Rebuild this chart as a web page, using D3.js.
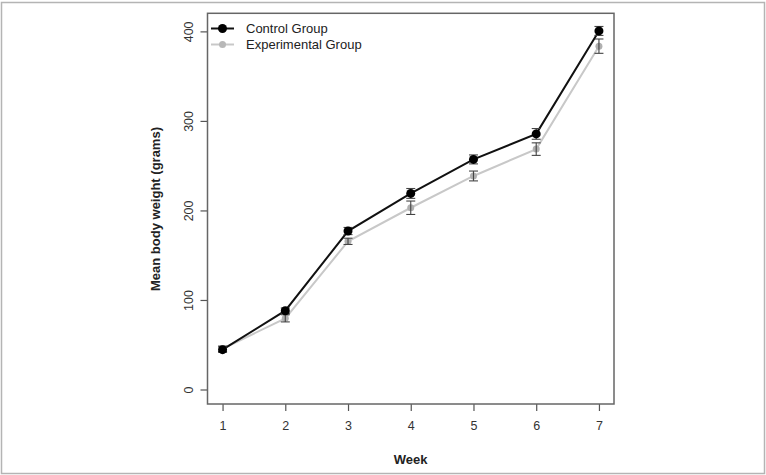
<!DOCTYPE html>
<html>
<head>
<meta charset="utf-8">
<script src="https://cdn.jsdelivr.net/npm/d3@7"></script>
<style>
  body { margin: 0; background: #fff; }
  svg { display: block; font-family: "Liberation Sans", Arial, sans-serif; }
</style>
</head>
<body>
<div class="container"></div>
<script>
var weeks = [1, 2, 3, 4, 5, 6, 7];
var controlMean = [44.5, 88, 177, 219, 257, 285.5, 400.5];
var controlErr = [3, 3, 4, 5.5, 5, 6, 5];
var expMean = [45.5, 79.5, 165.5, 203, 238.5, 268.5, 383.5];
var expErr = [3, 4, 3.5, 7.5, 5.5, 7, 8];
var yTicks = [0, 100, 200, 300, 400];
var legendLabels = ["Control Group", "Experimental Group"];

const WIDTH = 766;
const HEIGHT = 475;

var svg = d3.select('.container').append('svg')
  .attr('width', WIDTH)
  .attr('height', HEIGHT);

// outer frame of the figure
svg.append('rect')
  .attr('x', 1.5).attr('y', 2.5)
  .attr('width', WIDTH - 3).attr('height', HEIGHT - 4)
  .attr('fill', 'none')
  .attr('stroke', '#b4b4b4')
  .attr('stroke-width', 1.5);

// R style: 4% padding around data range
var xScale = d3.scaleLinear()
  .domain([0.76, 7.24])
  .range([207.5, 614]);

var yScale = d3.scaleLinear()
  .domain([-16.2, 420.2])
  .range([404, 13.3]);

var translate = function(x, y) {
  return "translate(" + x + "," + y + ")";
};

var xAxis = d3.axisBottom(xScale).tickValues(weeks).tickFormat(d3.format('d'))
  .tickSize(7).tickSizeOuter(0).tickPadding(10);
var yAxis = d3.axisLeft(yScale).tickValues(yTicks).tickFormat(d3.format('d'))
  .tickSize(7).tickSizeOuter(0).tickPadding(5);

var gx = svg.append('g')
  .attr('transform', translate(0, 404))
  .call(xAxis);
gx.select('.domain').remove();
gx.selectAll('line').attr('stroke', '#555').attr('stroke-width', 1.2);
gx.selectAll('text').attr('font-size', 12.5).attr('fill', '#333')
  .attr('font-family', '"Liberation Sans", Arial, sans-serif');

var gy = svg.append('g')
  .attr('transform', translate(207.5, 0))
  .call(yAxis);
gy.select('.domain').remove();
gy.selectAll('line').attr('stroke', '#555').attr('stroke-width', 1.2);
gy.selectAll('text')
  .attr('font-size', 12.5).attr('fill', '#333')
  .attr('font-family', '"Liberation Sans", Arial, sans-serif')
  .attr('text-anchor', 'middle')
  .attr('dy', 0)
  .attr('x', 0)
  .attr('transform', function() { return translate(-15, 0) + ' rotate(-90)'; });

// box
svg.append('rect')
  .attr('x', xScale.range()[0]).attr('y', yScale.range()[1])
  .attr('width', xScale.range()[1] - xScale.range()[0])
  .attr('height', yScale.range()[0] - yScale.range()[1])
  .attr('fill', 'none')
  .attr('stroke', '#666')
  .attr('stroke-width', 1.5);

// axis titles
svg.append('text')
  .attr('x', 410.7).attr('y', 464)
  .attr('text-anchor', 'middle')
  .attr('font-size', 13).attr('font-weight', 'bold').attr('fill', '#222')
  .text('Week');

svg.append('text')
  .attr('transform', translate(160, 209) + ' rotate(-90)')
  .attr('text-anchor', 'middle')
  .attr('font-size', 13).attr('font-weight', 'bold').attr('fill', '#222')
  .text('Mean body weight (grams)');

var drawSeries = function(means, errs, lineColor, dotColor, r) {
  var pts = weeks.map(function(w, i) { return [w, means[i], errs[i]]; });
  var line = d3.line()
    .x(function(q) { return xScale(q[0]); })
    .y(function(q) { return yScale(q[1]); });
  var g = svg.append('g');
  g.append('path')
    .datum(pts)
    .attr('d', line)
    .attr('fill', 'none')
    .attr('stroke', lineColor)
    .attr('stroke-width', 2);
  g.selectAll('circle')
    .data(pts)
    .enter().append('circle')
    .attr('cx', function(q) { return xScale(q[0]); })
    .attr('cy', function(q) { return yScale(q[1]); })
    .attr('r', r)
    .attr('fill', dotColor);
  var bars = g.selectAll('g.err')
    .data(pts)
    .enter().append('g')
    .attr('stroke', '#444')
    .attr('stroke-width', 1.1);
  bars.append('line')
    .attr('x1', function(q) { return xScale(q[0]); })
    .attr('x2', function(q) { return xScale(q[0]); })
    .attr('y1', function(q) { return yScale(q[1] - q[2]); })
    .attr('y2', function(q) { return yScale(q[1] + q[2]); });
  [1, -1].forEach(function(s) {
    bars.append('line')
      .attr('x1', function(q) { return xScale(q[0]) - 4.5; })
      .attr('x2', function(q) { return xScale(q[0]) + 4.5; })
      .attr('y1', function(q) { return yScale(q[1] + s * q[2]); })
      .attr('y2', function(q) { return yScale(q[1] + s * q[2]); });
  });
  if (dotColor == '#000') {
    g.selectAll('circle').raise();
  }
};

drawSeries(expMean, expErr, '#c8c8c8', '#b0b0b0', 3.5);
drawSeries(controlMean, controlErr, '#111', '#000', 4.5);

// legend
var legendColors = [['#111', '#000', 4.5], ['#c8c8c8', '#b8b8b8', 3.5]];
legendLabels.forEach(function(label, i) {
  var y = 28.5 + i * 16;
  svg.append('line')
    .attr('x1', 211).attr('x2', 234)
    .attr('y1', y).attr('y2', y)
    .attr('stroke', legendColors[i][0]).attr('stroke-width', 2);
  svg.append('circle')
    .attr('cx', 222.5).attr('cy', y)
    .attr('r', legendColors[i][2])
    .attr('fill', legendColors[i][1]);
  svg.append('text')
    .attr('x', 246).attr('y', y + 4.5)
    .attr('font-size', 13).attr('fill', '#222')
    .text(label);
});
</script>
</body>
</html>
